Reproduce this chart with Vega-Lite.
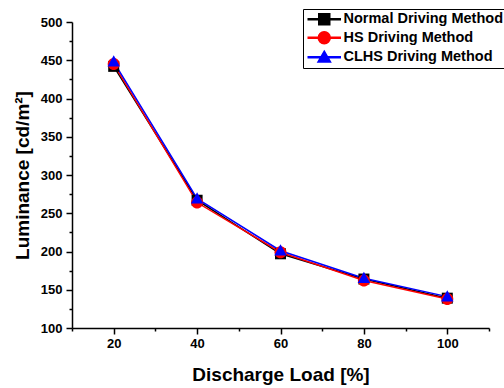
{
  "$schema": "https://vega.github.io/schema/vega-lite/v6.json",
  "width": 417,
  "height": 306,
  "autosize": {"type": "none"},
  "padding": {"left": 72, "top": 22, "right": 15, "bottom": 60},
  "background": "white",
  "config": {
    "view": {"stroke": null},
    "font": "Liberation Sans",
    "axis": {
      "grid": false,
      "domainColor": "black",
      "domainWidth": 1.5,
      "tickColor": "black",
      "tickWidth": 1.5,
      "labelColor": "black",
      "labelFont": "Liberation Sans",
      "labelFontWeight": "bold",
      "labelFontSize": 13,
      "titleColor": "black",
      "titleFont": "Liberation Sans",
      "titleFontWeight": "bold",
      "titleFontSize": 19
    },
    "legend": {
      "title": null,
      "orient": "none",
      "legendX": 231,
      "legendY": -13,
      "strokeColor": "black",
      "fillColor": "white",
      "padding": 3,
      "symbolSize": 100,
      "symbolOpacity": 1,
      "symbolOffset": 11,
      "labelOffset": 12,
      "labelFont": "Liberation Sans",
      "labelFontWeight": "bold",
      "labelFontSize": 14.5,
      "labelLimit": 300,
      "labelColor": "black",
      "rowPadding": 0.5
    }
  },
  "data": {
    "values": [
      {"load": 20, "method": "Normal Driving Method", "lum": 442},
      {"load": 40, "method": "Normal Driving Method", "lum": 267},
      {"load": 60, "method": "Normal Driving Method", "lum": 197},
      {"load": 80, "method": "Normal Driving Method", "lum": 164},
      {"load": 100, "method": "Normal Driving Method", "lum": 139},
      {"load": 20, "method": "HS Driving Method", "lum": 445},
      {"load": 40, "method": "HS Driving Method", "lum": 264},
      {"load": 60, "method": "HS Driving Method", "lum": 199},
      {"load": 80, "method": "HS Driving Method", "lum": 162},
      {"load": 100, "method": "HS Driving Method", "lum": 138},
      {"load": 20, "method": "CLHS Driving Method", "lum": 448},
      {"load": 40, "method": "CLHS Driving Method", "lum": 269},
      {"load": 60, "method": "CLHS Driving Method", "lum": 201},
      {"load": 80, "method": "CLHS Driving Method", "lum": 165},
      {"load": 100, "method": "CLHS Driving Method", "lum": 141}
    ]
  },
  "resolve": {"axis": {"x": "independent", "y": "independent"}},
  "layer": [
    {
      "mark": {"type": "line", "strokeWidth": 1.5},
      "encoding": {
        "x": {
          "field": "load", "type": "quantitative",
          "scale": {"domain": [10, 110], "nice": false, "zero": false},
          "axis": {"orient": "bottom", "values": [20, 40, 60, 80, 100], "tickSize": 6, "labelPadding": 3, "title": "Discharge Load [%]", "titlePadding": 15}
        },
        "y": {
          "field": "lum", "type": "quantitative",
          "scale": {"domain": [100, 500], "nice": false, "zero": false},
          "axis": {"orient": "left", "values": [100, 150, 200, 250, 300, 350, 400, 450, 500], "tickSize": 6, "labelPadding": 4, "title": "Luminance  [cd/m²]", "titlePadding": 8}
        },
        "color": {
          "field": "method", "type": "nominal",
          "scale": {"domain": ["Normal Driving Method", "HS Driving Method", "CLHS Driving Method"], "range": ["#000000", "#ff0000", "#0000ff"]},
          "legend": {"title": null}
        },
        "detail": {"field": "method"}
      }
    },
    {
      "transform": [{"filter": "datum.method === 'Normal Driving Method'"}],
      "mark": {"type": "point", "filled": true, "size": 100, "opacity": 1, "color": "#000000", "shape": "M-1.1,-1.1H1.1V1.1H-1.1Z"},
      "encoding": {
        "x": {
          "field": "load", "type": "quantitative",
          "axis": {"orient": "bottom", "values": [10, 30, 50, 70, 90, 110], "tickSize": 3, "labels": false, "domain": false, "title": null}
        },
        "y": {
          "field": "lum", "type": "quantitative",
          "axis": {"orient": "left", "values": [125, 175, 225, 275, 325, 375, 425, 475], "tickSize": 3, "labels": false, "domain": false, "title": null}
        }
      }
    },
    {
      "transform": [{"filter": "datum.method === 'HS Driving Method'"}],
      "mark": {"type": "point", "filled": true, "size": 100, "opacity": 1, "color": "#ff0000", "shape": "M-1.2,0A1.2,1.2 0 1,0 1.2,0A1.2,1.2 0 1,0 -1.2,0Z"},
      "encoding": {
        "x": {"field": "load", "type": "quantitative", "axis": null},
        "y": {"field": "lum", "type": "quantitative", "axis": null}
      }
    },
    {
      "transform": [{"filter": "datum.method === 'CLHS Driving Method'"}],
      "mark": {"type": "point", "filled": true, "size": 100, "opacity": 1, "color": "#0000ff", "shape": "M0,-1.3L1.25,0.95H-1.25Z"},
      "encoding": {
        "x": {"field": "load", "type": "quantitative", "axis": null},
        "y": {"field": "lum", "type": "quantitative", "axis": null}
      }
    },
    {
      "mark": {"type": "point", "filled": true, "size": 100, "opacity": 0},
      "encoding": {
        "x": {"field": "load", "type": "quantitative", "axis": null},
        "y": {"field": "lum", "type": "quantitative", "axis": null},
        "color": {
          "field": "method", "type": "nominal",
          "scale": {"domain": ["Normal Driving Method", "HS Driving Method", "CLHS Driving Method"], "range": ["#000000", "#ff0000", "#0000ff"]},
          "legend": {"title": null}
        },
        "shape": {
          "field": "method", "type": "nominal",
          "scale": {"domain": ["Normal Driving Method", "HS Driving Method", "CLHS Driving Method"], "range": ["M-3.2,-0.12H3.2V0.12H-3.2ZM-1.1,-1.1H1.1V1.1H-1.1Z", "M-3.2,-0.12H3.2V0.12H-3.2ZM-1.2,0A1.2,1.2 0 1,0 1.2,0A1.2,1.2 0 1,0 -1.2,0Z", "M-3.2,-0.12H3.2V0.12H-3.2ZM0,-1.2L1.25,0.95H-1.25Z"]},
          "legend": {"title": null}
        }
      }
    }
  ]
}
